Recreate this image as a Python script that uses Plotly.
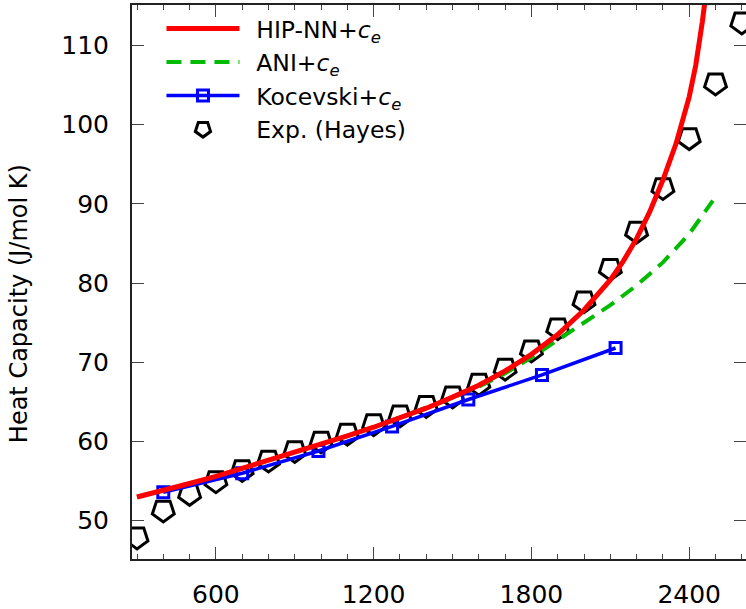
import plotly.graph_objects as go

# ---- data ----
exp_T = [300, 400, 500, 600, 700, 800, 900, 1000, 1100, 1200, 1300, 1400,
         1500, 1600, 1700, 1800, 1900, 2000, 2100, 2200, 2300, 2400, 2500, 2600]
exp_cp = [47.9, 51.3, 53.4, 55.0, 56.4, 57.6, 58.8, 60.0, 61.0, 62.2, 63.3, 64.5,
          65.7, 67.3, 69.2, 71.5, 74.3, 77.7, 81.8, 86.5, 92.0, 98.3, 105.2, 112.9]

hip_T = [300, 400, 500, 600, 700, 800, 900, 1000, 1100, 1200, 1300, 1400, 1500,
         1600, 1700, 1800, 1900, 2000, 2100, 2150, 2200, 2250, 2300, 2350, 2400,
         2425, 2450, 2475]
hip_cp = [53.0, 53.8, 54.7, 55.6, 56.6, 57.6, 58.6, 59.6, 60.7, 61.8, 63.0, 64.2, 65.6,
          67.1, 68.9, 71.0, 73.5, 76.6, 80.4, 82.8, 85.6, 89.0, 93.0, 97.6, 103.5,
          107.5, 113.0, 119.5]

ani_T = [300, 400, 500, 600, 700, 800, 900, 1000, 1100, 1200, 1300, 1400, 1500,
         1600, 1700, 1800, 1900, 2000, 2100, 2200, 2300, 2400, 2490]
ani_cp = [53.0, 53.8, 54.7, 55.6, 56.6, 57.6, 58.6, 59.6, 60.7, 61.8, 63.0, 64.2, 65.5,
          66.9, 68.6, 70.6, 72.8, 75.0, 77.2, 79.7, 82.6, 86.2, 90.4]

koc_T = [400, 700, 990, 1270, 1560, 1840, 2120]
koc_cp = [53.6, 56.0, 58.8, 61.9, 65.3, 68.4, 71.8]

x_ticks = [600, 1200, 1800, 2400]
y_ticks = [50, 60, 70, 80, 90, 100, 110]

FONT = "DejaVu Sans"
PAD = "\u2002"  # small gap between legend symbol and label

fig = go.Figure()
# draw order: experiment (bottom), ANI, Kocevski, HIP-NN (top); legend order via legendrank
fig.add_trace(go.Scatter(x=exp_T, y=exp_cp, mode="markers", name=PAD + "Exp. (Hayes)",
                         legendrank=4,
                         marker=dict(symbol="pentagon-open", size=23, angle=180, color="black",
                                     line=dict(width=3, color="black"))))
fig.add_trace(go.Scatter(x=ani_T, y=ani_cp, mode="lines",
                         name=PAD + "ANI+<i>c</i><sub><i>e</i></sub>", legendrank=2,
                         line=dict(color="#00bb00", width=4, dash="15px,9px")))
fig.add_trace(go.Scatter(x=koc_T, y=koc_cp, mode="lines+markers",
                         name=PAD + "Kocevski+<i>c</i><sub><i>e</i></sub>", legendrank=3,
                         line=dict(color="#0000ff", width=3.5),
                         marker=dict(symbol="square-open", size=11, color="#0000ff",
                                     line=dict(width=3, color="#0000ff"))))
fig.add_trace(go.Scatter(x=hip_T, y=hip_cp, mode="lines",
                         name=PAD + "HIP-NN+<i>c</i><sub><i>e</i></sub>", legendrank=1,
                         line=dict(color="#ff0000", width=5)))
# dummy trace for right-hand tick axis
fig.add_trace(go.Scatter(x=[None], y=[None], xaxis="x", yaxis="y2", showlegend=False,
                         hoverinfo="skip"))

fig.update_layout(
    width=746, height=609,
    margin=dict(l=132, r=0, t=5, b=47),
    paper_bgcolor="white", plot_bgcolor="white",
    font=dict(family=FONT, color="black"),
    showlegend=True,
    legend=dict(x=0.048, y=0.997, xanchor="left", yanchor="top",
                font=dict(size=23.5, family=FONT), itemwidth=73,
                bgcolor="rgba(0,0,0,0)", borderwidth=0, tracegroupgap=0,
                traceorder="normal"),
    xaxis=dict(range=[281, 2616], tickmode="array", tickvals=x_ticks,
               ticks="inside", ticklen=12, tickwidth=1, tickcolor="#444",
               showline=True, linecolor="#222", linewidth=2, mirror="ticks",
               showgrid=False, zeroline=False,
               tickfont=dict(size=25, family=FONT), ticklabelstandoff=12,
               minor=dict(dtick=100, tick0=0, ticks="inside", ticklen=5,
                          tickcolor="#444", tickwidth=1, showgrid=False)),
    yaxis=dict(range=[45.17, 115.09], tickmode="array", tickvals=y_ticks,
               ticks="inside", ticklen=12, tickwidth=1, tickcolor="#444",
               showline=True, linecolor="#222", linewidth=2,
               showgrid=False, zeroline=False,
               tickfont=dict(size=25, family=FONT), ticklabelstandoff=16),
    yaxis2=dict(range=[45.17, 115.09], overlaying="y", side="right", anchor="x",
                tickmode="array", tickvals=y_ticks, showticklabels=False,
                ticks="inside", ticklen=12, tickwidth=1, tickcolor="#444",
                showline=False, showgrid=False, zeroline=False),
    annotations=[dict(text="Heat Capacity (J/mol K)", textangle=-90,
                      xref="paper", yref="paper", x=(19 - 132) / 614, y=0.46,
                      xanchor="center", yanchor="middle", showarrow=False,
                      font=dict(size=24, family=FONT, color="black"))],
)

fig.write_html("out.html", config={"displayModeBar": False})

# remove the browser's default page margin so the figure sits at the top-left corner
with open("out.html", "r", encoding="utf-8") as f:
    html = f.read()
html = html.replace("<head>", "<head><style>html,body{margin:0;padding:0;overflow:hidden;}</style>", 1)
with open("out.html", "w", encoding="utf-8") as f:
    f.write(html)
